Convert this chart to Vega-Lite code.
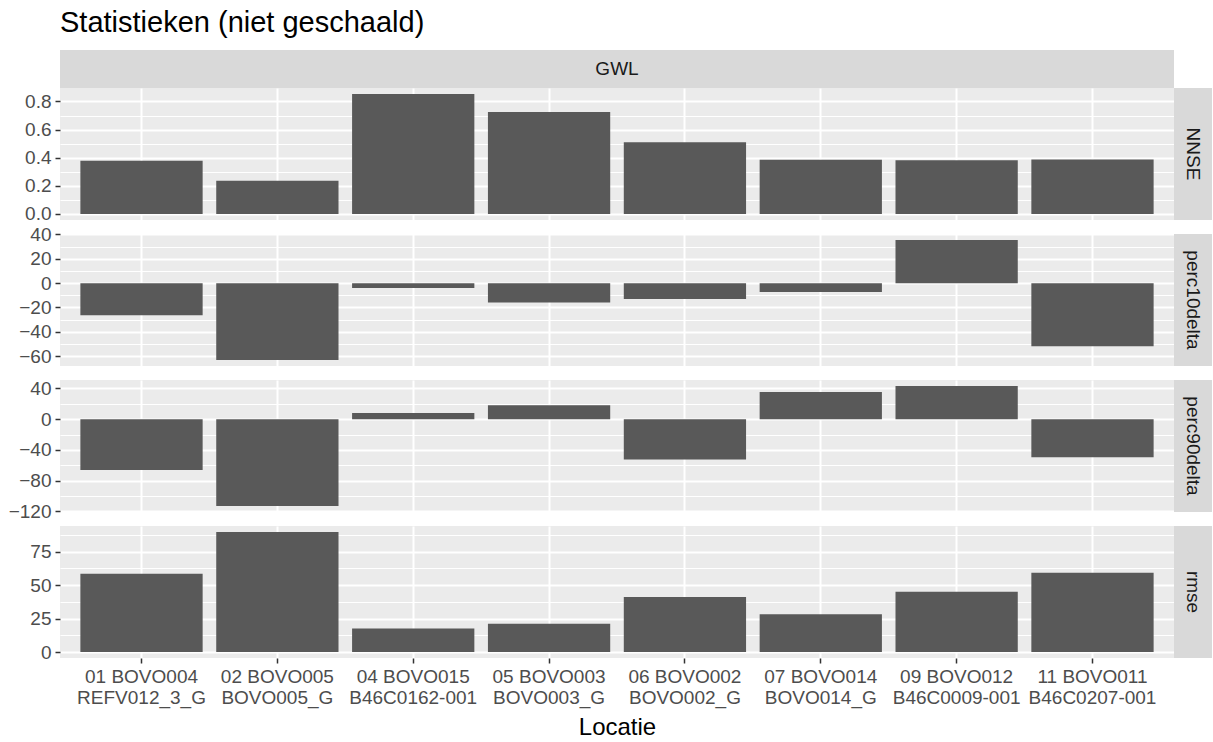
{
  "$schema": "https://vega.github.io/schema/vega-lite/v6.json",
  "padding": {"left": 8, "top": 9, "right": 0, "bottom": 0},
  "background": "white",
  "title": {"text": "Statistieken (niet geschaald)", "anchor": "start", "frame": "group", "fontSize": 29, "fontWeight": "normal", "color": "#000000", "offset": 12},
  "config": {
    "font": "Liberation Sans",
    "axis": {"labelFontSize": 19, "labelColor": "#4D4D4D", "tickColor": "#333333", "tickSize": 5, "tickWidth": 1.5, "labelPadding": 4, "domain": false, "gridColor": "#FFFFFF", "titleFontWeight": "normal", "titleColor": "#000000", "titleFontSize": 24},
    "axisY": {"minExtent": 48, "maxExtent": 48}
  },
  "datasets": {
    "stats": [
      {"Locatie": "01 BOVO004|REFV012_3_G", "stat": "NNSE", "value": 0.378},
      {"Locatie": "02 BOVO005|BOVO005_G", "stat": "NNSE", "value": 0.236},
      {"Locatie": "04 BOVO015|B46C0162-001", "stat": "NNSE", "value": 0.853},
      {"Locatie": "05 BOVO003|BOVO003_G", "stat": "NNSE", "value": 0.725},
      {"Locatie": "06 BOVO002|BOVO002_G", "stat": "NNSE", "value": 0.51},
      {"Locatie": "07 BOVO014|BOVO014_G", "stat": "NNSE", "value": 0.385},
      {"Locatie": "09 BOVO012|B46C0009-001", "stat": "NNSE", "value": 0.382},
      {"Locatie": "11 BOVO011|B46C0207-001", "stat": "NNSE", "value": 0.387},
      {"Locatie": "01 BOVO004|REFV012_3_G", "stat": "perc10delta", "value": -26.4},
      {"Locatie": "02 BOVO005|BOVO005_G", "stat": "perc10delta", "value": -63.2},
      {"Locatie": "04 BOVO015|B46C0162-001", "stat": "perc10delta", "value": -4.0},
      {"Locatie": "05 BOVO003|BOVO003_G", "stat": "perc10delta", "value": -15.9},
      {"Locatie": "06 BOVO002|BOVO002_G", "stat": "perc10delta", "value": -13.0},
      {"Locatie": "07 BOVO014|BOVO014_G", "stat": "perc10delta", "value": -7.2},
      {"Locatie": "09 BOVO012|B46C0009-001", "stat": "perc10delta", "value": 35.5},
      {"Locatie": "11 BOVO011|B46C0207-001", "stat": "perc10delta", "value": -51.8},
      {"Locatie": "01 BOVO004|REFV012_3_G", "stat": "perc90delta", "value": -66.0},
      {"Locatie": "02 BOVO005|BOVO005_G", "stat": "perc90delta", "value": -113.0},
      {"Locatie": "04 BOVO015|B46C0162-001", "stat": "perc90delta", "value": 8.1},
      {"Locatie": "05 BOVO003|BOVO003_G", "stat": "perc90delta", "value": 18.0},
      {"Locatie": "06 BOVO002|BOVO002_G", "stat": "perc90delta", "value": -52.4},
      {"Locatie": "07 BOVO014|BOVO014_G", "stat": "perc90delta", "value": 35.3},
      {"Locatie": "09 BOVO012|B46C0009-001", "stat": "perc90delta", "value": 43.2},
      {"Locatie": "11 BOVO011|B46C0207-001", "stat": "perc90delta", "value": -49.4},
      {"Locatie": "01 BOVO004|REFV012_3_G", "stat": "rmse", "value": 58.5},
      {"Locatie": "02 BOVO005|BOVO005_G", "stat": "rmse", "value": 89.7},
      {"Locatie": "04 BOVO015|B46C0162-001", "stat": "rmse", "value": 17.5},
      {"Locatie": "05 BOVO003|BOVO003_G", "stat": "rmse", "value": 21.2},
      {"Locatie": "06 BOVO002|BOVO002_G", "stat": "rmse", "value": 41.1},
      {"Locatie": "07 BOVO014|BOVO014_G", "stat": "rmse", "value": 28.2},
      {"Locatie": "09 BOVO012|B46C0009-001", "stat": "rmse", "value": 45.0},
      {"Locatie": "11 BOVO011|B46C0207-001", "stat": "rmse", "value": 59.2}
    ]
  },
  "spacing": 0,
  "vconcat": [
    {
      "width": 1114, "height": 38,
      "view": {"fill": "#D9D9D9", "stroke": null},
      "data": {"values": [{"s": "GWL"}]},
      "mark": {"type": "text", "fontSize": 19, "color": "#1A1A1A"},
      "encoding": {
        "x": {"field": "s", "type": "nominal", "axis": null},
        "y": {"field": "s", "type": "nominal", "axis": {"title": null, "labels": false, "ticks": false, "grid": false, "domain": false}},
        "text": {"field": "s"}
      }
    },
    {
      "bounds": "flush",
      "columns": 2,
      "spacing": {"row": 14, "column": 0},
      "concat": [
        {
          "width": 1114, "height": 132,
          "view": {"fill": "#EBEBEB", "stroke": null},
          "data": {"name": "stats"},
          "transform": [{"filter": "datum.stat === 'NNSE'"}],
          "mark": {"type": "bar", "color": "#595959"},
          "encoding": {
            "x": {"field": "Locatie", "type": "nominal", "sort": null, "scale": {"paddingInner": 0.1, "paddingOuter": 0.15},
                  "axis": {"title": null, "labels": false, "ticks": false, "grid": true, "gridWidth": 2, "bandPosition": 0.5}},
            "y": {"field": "value", "type": "quantitative", "scale": {"domain": [-0.0427, 0.8957], "nice": false, "zero": false},
                  "axis": {"title": null, "grid": true, "values": [0, 0.1, 0.2, 0.3, 0.4, 0.5, 0.6, 0.7, 0.8],
                           "labelExpr": "abs(datum.value*5 - round(datum.value*5)) < 0.001 ? format(datum.value, '.1f') : ''",
                           "gridWidth": {"condition": {"test": "abs(datum.value*5 - round(datum.value*5)) < 0.001", "value": 2}, "value": 1},
                           "tickOpacity": {"condition": {"test": "abs(datum.value*5 - round(datum.value*5)) < 0.001", "value": 1}, "value": 0}}},
            "y2": {"datum": 0}
          }
        },
        {"width": 38, "height": 132, "view": {"fill": "#D9D9D9", "stroke": null}, "data": {"values": [{"s": "NNSE"}]},
         "mark": {"type": "text", "angle": 90, "fontSize": 19, "color": "#1A1A1A"},
         "encoding": {"x": {"field": "s", "type": "nominal", "axis": null}, "y": {"field": "s", "type": "nominal", "axis": null}, "text": {"field": "s"}}},
        {
          "width": 1114, "height": 132,
          "view": {"fill": "#EBEBEB", "stroke": null},
          "data": {"name": "stats"},
          "transform": [{"filter": "datum.stat === 'perc10delta'"}],
          "mark": {"type": "bar", "color": "#595959"},
          "encoding": {
            "x": {"field": "Locatie", "type": "nominal", "sort": null, "scale": {"paddingInner": 0.1, "paddingOuter": 0.15},
                  "axis": {"title": null, "labels": false, "ticks": false, "grid": true, "gridWidth": 2, "bandPosition": 0.5}},
            "y": {"field": "value", "type": "quantitative", "scale": {"domain": [-68.1, 40.4], "nice": false, "zero": false},
                  "axis": {"title": null, "grid": true, "values": [-60, -50, -40, -30, -20, -10, 0, 10, 20, 30, 40],
                           "labelExpr": "datum.value % 20 === 0 ? format(datum.value, 'd') : ''",
                           "gridWidth": {"condition": {"test": "datum.value % 20 === 0", "value": 2}, "value": 1},
                           "tickOpacity": {"condition": {"test": "datum.value % 20 === 0", "value": 1}, "value": 0}}},
            "y2": {"datum": 0}
          }
        },
        {"width": 38, "height": 132, "view": {"fill": "#D9D9D9", "stroke": null}, "data": {"values": [{"s": "perc10delta"}]},
         "mark": {"type": "text", "angle": 90, "fontSize": 19, "color": "#1A1A1A"},
         "encoding": {"x": {"field": "s", "type": "nominal", "axis": null}, "y": {"field": "s", "type": "nominal", "axis": null}, "text": {"field": "s"}}},
        {
          "width": 1114, "height": 132,
          "view": {"fill": "#EBEBEB", "stroke": null},
          "data": {"name": "stats"},
          "transform": [{"filter": "datum.stat === 'perc90delta'"}],
          "mark": {"type": "bar", "color": "#595959"},
          "encoding": {
            "x": {"field": "Locatie", "type": "nominal", "sort": null, "scale": {"paddingInner": 0.1, "paddingOuter": 0.15},
                  "axis": {"title": null, "labels": false, "ticks": false, "grid": true, "gridWidth": 2, "bandPosition": 0.5}},
            "y": {"field": "value", "type": "quantitative", "scale": {"domain": [-120.8, 51.0], "nice": false, "zero": false},
                  "axis": {"title": null, "grid": true, "values": [-120, -100, -80, -60, -40, -20, 0, 20, 40],
                           "labelExpr": "datum.value % 40 === 0 ? format(datum.value, 'd') : ''",
                           "gridWidth": {"condition": {"test": "datum.value % 40 === 0", "value": 2}, "value": 1},
                           "tickOpacity": {"condition": {"test": "datum.value % 40 === 0", "value": 1}, "value": 0}}},
            "y2": {"datum": 0}
          }
        },
        {"width": 38, "height": 132, "view": {"fill": "#D9D9D9", "stroke": null}, "data": {"values": [{"s": "perc90delta"}]},
         "mark": {"type": "text", "angle": 90, "fontSize": 19, "color": "#1A1A1A"},
         "encoding": {"x": {"field": "s", "type": "nominal", "axis": null}, "y": {"field": "s", "type": "nominal", "axis": null}, "text": {"field": "s"}}},
        {
          "width": 1114, "height": 132,
          "view": {"fill": "#EBEBEB", "stroke": null},
          "data": {"name": "stats"},
          "transform": [{"filter": "datum.stat === 'rmse'"}],
          "mark": {"type": "bar", "color": "#595959"},
          "encoding": {
            "x": {"field": "Locatie", "type": "nominal", "sort": null, "scale": {"paddingInner": 0.1, "paddingOuter": 0.15},
                  "axis": {"title": "Locatie", "labels": true, "ticks": true, "grid": true, "gridWidth": 2, "bandPosition": 0.5,
                           "labelAngle": 0, "labelExpr": "split(datum.label, '|')", "labelLineHeight": 21, "labelBaseline": "top", "titlePadding": 8}},
            "y": {"field": "value", "type": "quantitative", "scale": {"domain": [-4.485, 94.185], "nice": false, "zero": false},
                  "axis": {"title": null, "grid": true, "values": [0, 12.5, 25, 37.5, 50, 62.5, 75, 87.5],
                           "labelExpr": "datum.value % 25 === 0 ? format(datum.value, 'd') : ''",
                           "gridWidth": {"condition": {"test": "datum.value % 25 === 0", "value": 2}, "value": 1},
                           "tickOpacity": {"condition": {"test": "datum.value % 25 === 0", "value": 1}, "value": 0}}},
            "y2": {"datum": 0}
          }
        },
        {"width": 38, "height": 132, "view": {"fill": "#D9D9D9", "stroke": null}, "data": {"values": [{"s": "rmse"}]},
         "mark": {"type": "text", "angle": 90, "fontSize": 19, "color": "#1A1A1A"},
         "encoding": {"x": {"field": "s", "type": "nominal", "axis": null}, "y": {"field": "s", "type": "nominal", "axis": null}, "text": {"field": "s"}}}
      ]
    }
  ]
}
